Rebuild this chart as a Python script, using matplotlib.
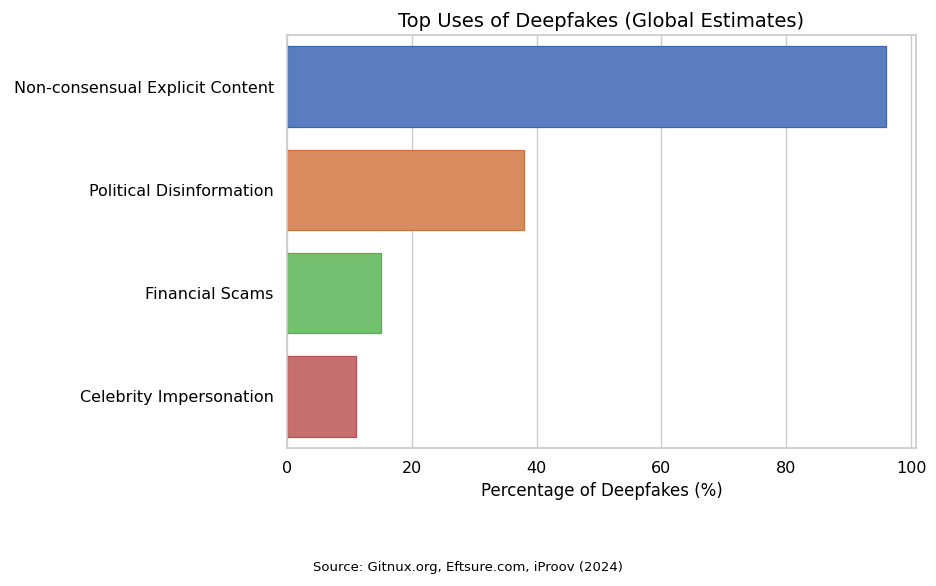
import matplotlib
matplotlib.use("Agg")
import matplotlib.pyplot as plt
import seaborn as sns
import pandas as pd

categories = ["Non-consensual Explicit Content", "Political Disinformation",
              "Financial Scams", "Celebrity Impersonation"]
values = [96, 38, 15, 11]

sns.set_theme(style="whitegrid")
plt.rcParams['font.family'] = ['DejaVu Sans']
plt.rcParams['text.color'] = 'black'
plt.rcParams['axes.labelcolor'] = 'black'
plt.rcParams['xtick.color'] = 'black'
plt.rcParams['ytick.color'] = 'black'

fig = plt.figure(figsize=(9.36, 5.86), dpi=100)
ax = fig.add_axes([287/936, 1-448/586, (916-287)/936, (448-35)/586])
df = pd.DataFrame({"Use": categories, "Pct": values})
sns.barplot(data=df, y="Use", x="Pct", hue="Use", palette="muted", legend=False,
            width=0.78, ax=ax)
edge_colors = sns.color_palette("muted", 4)
for p, ec in zip(ax.patches, edge_colors):
    p.set_edgecolor(tuple(c*0.85 for c in ec))
    p.set_linewidth(0.9)
ax.set_title("Top Uses of Deepfakes (Global Estimates)", fontsize=14)
ax.set_xlabel("Percentage of Deepfakes (%)", fontsize=12)
ax.set_ylabel("")
ax.tick_params(axis='both', labelsize=11.5)
fig.text(0.5, 1-567/586, "Source: Gitnux.org, Eftsure.com, iProov (2024)", ha="center", va="center", fontsize=9.5)
fig.savefig("out.png", dpi=100)
